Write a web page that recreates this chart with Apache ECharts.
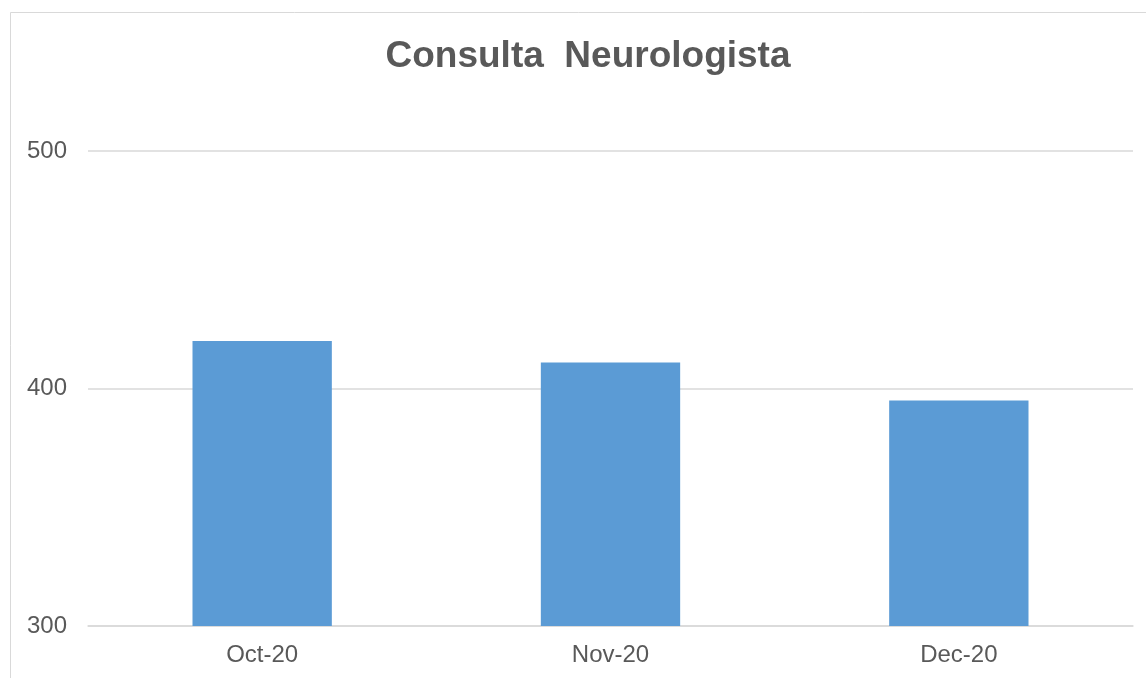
<!DOCTYPE html>
<html>
<head>
<meta charset="utf-8">
<script src="https://cdn.jsdelivr.net/npm/echarts@6/dist/echarts.min.js"></script>
<style>
  html, body { margin: 0; padding: 0; background: #fff; }
  #chart { width: 1147px; height: 678px; }
</style>
</head>
<body>
<div id="chart"></div>
<script>
// dados
const categories = ['Oct-20', 'Nov-20', 'Dec-20']
const values = [420, 411, 395]
const yTicks = { min: 300, max: 500, interval: 100 }

const myChart = echarts.init(document.getElementById('chart'), null, { renderer: 'canvas' })

const textColor = '#595959'
const font = '"Liberation Sans", Arial, sans-serif'

const option = {
  animation: false,
  backgroundColor: '#fff',
  graphic: [
    {
      type: 'polyline',
      shape: { points: [[10.5, 678], [10.5, 12.5], [1146, 12.5]] },
      style: { stroke: '#d9d9d9', lineWidth: 1, fill: null },
      silent: true
    }
  ],
  title: {
    text: 'Consulta  Neurologista',
    left: 583,
    textAlign: 'center',
    top: 33,
    textStyle: {
      fontFamily: font,
      fontSize: 37,
      fontWeight: 'bold',
      color: textColor
    }
  },
  grid: {
    left: 88,
    right: 14,
    top: 151,
    bottom: 52
  },
  xAxis: {
    type: 'category',
    data: categories,
    axisLine: { show: true, lineStyle: { color: '#d9d9d9', width: 1.5 } },
    axisTick: { show: false },
    axisLabel: {
      color: textColor,
      fontFamily: font,
      fontSize: 24,
      margin: 17
    }
  },
  yAxis: {
    type: 'value',
    min: yTicks.min,
    max: yTicks.max,
    interval: yTicks.interval,
    axisLine: { show: false },
    axisTick: { show: false },
    splitLine: { lineStyle: { color: '#d9d9d9', width: 1.5 } },
    axisLabel: {
      color: textColor,
      fontFamily: font,
      fontSize: 24,
      margin: 21
    }
  },
  series: [
    {
      type: 'bar',
      data: values,
      barWidth: '40%',
      itemStyle: { color: '#5b9bd5' }
    }
  ]
}

myChart.setOption(option)
</script>
</body>
</html>
